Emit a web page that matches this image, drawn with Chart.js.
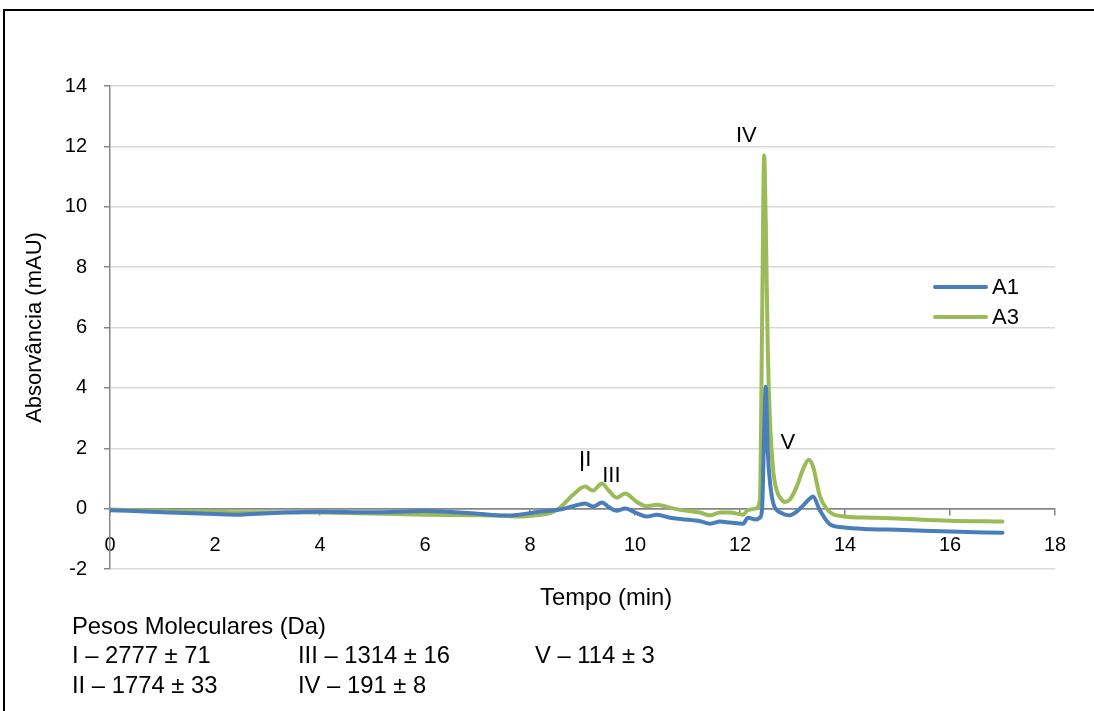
<!DOCTYPE html>
<html>
<head>
<meta charset="utf-8">
<script src="https://cdn.jsdelivr.net/npm/chart.js@4.4.1/dist/chart.umd.min.js"></script>
<style>
    body { margin: 0; background: #fff; font-family: "Liberation Sans", Arial, sans-serif; }
    #wrap { position: relative; width: 1094px; height: 711px; overflow: hidden; }
    #frame { position: absolute; left: 3px; top: 9px; width: 1200px; height: 800px; border-left: 2px solid #000; border-top: 2px solid #000; }
    #chart { position: absolute; left: 0; top: 0; }
    .txt { position: absolute; font-size: 23.8px; line-height: 24px; color: #000; white-space: nowrap; }
    .leg-line { position: absolute; width: 55px; height: 4px; border-radius: 2px; }
    .leg-text { position: absolute; font-size: 22px; line-height: 22px; color: #000; }
</style>
</head>
<body>
<div id="wrap">
    <div id="frame"></div>
    <canvas id="chart" width="1094" height="711"></canvas>
    <div class="txt" style="left:540px; top:585px;">Tempo (min)</div>
    <div class="txt" style="left:72px; top:614px;">Pesos Moleculares (Da)</div>
    <div class="txt" style="left:72px; top:643px;">I – 2777 ± 71</div>
    <div class="txt" style="left:298px; top:643px;">III – 1314 ± 16</div>
    <div class="txt" style="left:535px; top:643px;">V – 114 ± 3</div>
    <div class="txt" style="left:72px; top:673px;">II – 1774 ± 33</div>
    <div class="txt" style="left:298px; top:673px;">IV – 191 ± 8</div>
    <div id="legend"></div>
</div>
<script>
// Chromatogram data (time in min, absorbance in mAU)
const tempo = [0, 1, 2, 2.5, 3, 4, 5, 6, 7, 7.5, 7.8, 8.1, 8.38, 8.57, 8.82, 9.05, 9.2, 9.37, 9.5, 9.65,
    9.81, 10.03, 10.22, 10.42, 10.67, 10.9, 11.24, 11.43, 11.62, 11.81, 12.06, 12.15, 12.3, 12.38, 12.42,
    12.46, 12.49, 12.53, 12.57, 12.63, 12.7, 12.8, 12.86, 12.95, 13.08, 13.2, 13.31, 13.39, 13.52, 13.7,
    13.95, 14.5, 15, 16, 17];

const a1 = [-0.05, -0.12, -0.18, -0.2, -0.15, -0.1, -0.12, -0.08, -0.17, -0.23, -0.2, -0.12, -0.07, -0.03, 0.08,
    0.17, 0.07, 0.2, 0.05, -0.07, 0, -0.15, -0.26, -0.2, -0.3, -0.35, -0.42, -0.5, -0.43, -0.46, -0.5, -0.3,
    -0.36, -0.3, -0.03, 2.5, 4.04, 1.85, 0.9, 0.2, -0.05, -0.15, -0.2, -0.22, -0.1, 0.1, 0.3, 0.4, -0.05,
    -0.5, -0.62, -0.68, -0.7, -0.76, -0.8];

const a3 = [-0.03, -0.07, -0.1, -0.12, -0.12, -0.13, -0.16, -0.2, -0.22, -0.24, -0.26, -0.22, -0.15, 0.03, 0.46,
    0.73, 0.6, 0.83, 0.6, 0.36, 0.5, 0.23, 0.08, 0.13, 0.03, -0.05, -0.13, -0.22, -0.13, -0.13, -0.2, -0.05,
    0, 0.3, 6.0, 11.7, 9.5, 5.2, 2.95, 1.3, 0.6, 0.28, 0.22, 0.3, 0.73, 1.3, 1.62, 1.4, 0.42,
    -0.1, -0.25, -0.3, -0.33, -0.4, -0.43];

// Peak labels
const peakLabels = ['I', 'II', 'III', 'IV', 'V'];
const peakX = [8.99, 9.05, 9.55, 12.12, 12.91];
const peakY = [1.46, 1.62, 1.08, 12.34, 2.17];

const seriesNames = ['A1', 'A3'];
const seriesColors = ['#4a7ebb', '#9bbb59'];

Chart.defaults.font.family = '"Liberation Sans", Arial, sans-serif';
Chart.defaults.color = '#000';

function toPoints(values) {
    return tempo.map((t, i) => ({ x: t, y: values[i] }));
}

// Draw the roman numeral labels at their data positions
const peakLabelPlugin = {
    id: 'peakLabels',
    afterDatasetsDraw(chart) {
        const ctx = chart.ctx;
        const xs = chart.scales.x, ys = chart.scales.y;
        ctx.save();
        ctx.font = '22px "Liberation Sans", Arial, sans-serif';
        ctx.fillStyle = '#000';
        ctx.textAlign = 'center';
        ctx.textBaseline = 'middle';
        peakLabels.forEach((label, i) => {
            ctx.fillText(label, xs.getPixelForValue(peakX[i]), ys.getPixelForValue(peakY[i]));
        });
        ctx.restore();
    }
};

const chart = new Chart(document.getElementById('chart'), {
    type: 'line',
    data: {
        datasets: [
            { label: seriesNames[0], data: toPoints(a1), borderColor: seriesColors[0], borderWidth: 4 },
            { label: seriesNames[1], data: toPoints(a3), borderColor: seriesColors[1], borderWidth: 4 }
        ]
    },
    options: {
        responsive: false,
        animation: false,
        layout: { padding: { left: 0, top: 86, right: 39, bottom: 142 } },
        elements: {
            point: { radius: 0 },
            line: { cubicInterpolationMode: 'monotone', borderCapStyle: 'round', borderJoinStyle: 'round' }
        },
        plugins: {
            legend: { display: false },
            tooltip: { enabled: false }
        },
        scales: {
            x: {
                type: 'linear',
                min: 0,
                max: 18,
                position: { y: 0 },
                ticks: { stepSize: 2, font: { size: 20 }, color: '#000', padding: 19 },
                grid: { drawOnChartArea: false, color: '#868686', lineWidth: 1.5, tickLength: 6 },
                border: { color: '#868686', width: 1.5 },
                afterFit(scale) { scale.height = 0; }
            },
            y: {
                min: -2,
                max: 14,
                ticks: { stepSize: 2, font: { size: 20 }, color: '#000', padding: 17 },
                grid: {
                    color: ctx => (ctx.tick && ctx.tick.value === 0) ? '#868686' : '#d9d9d9',
                    lineWidth: 1.5,
                    tickLength: 6,
                    tickColor: '#868686'
                },
                border: { color: '#868686', width: 1.5 },
                title: { display: true, text: 'Absorvância (mAU)', font: { size: 22 }, padding: { top: 22 } },
                afterFit(scale) { scale.width = 110; }
            }
        }
    },
    plugins: [peakLabelPlugin]
});

// Legend inside the plot area, built from the datasets
const legend = document.getElementById('legend');
chart.data.datasets.forEach((ds, i) => {
    const y = 287 + i * 30;
    legend.insertAdjacentHTML('beforeend',
        `<div class="leg-line" style="left:933px; top:${y - 2}px; background:${ds.borderColor};"></div>` +
        `<div class="leg-text" style="left:992px; top:${y - 11}px;">${ds.label}</div>`);
});
</script>
</body>
</html>
